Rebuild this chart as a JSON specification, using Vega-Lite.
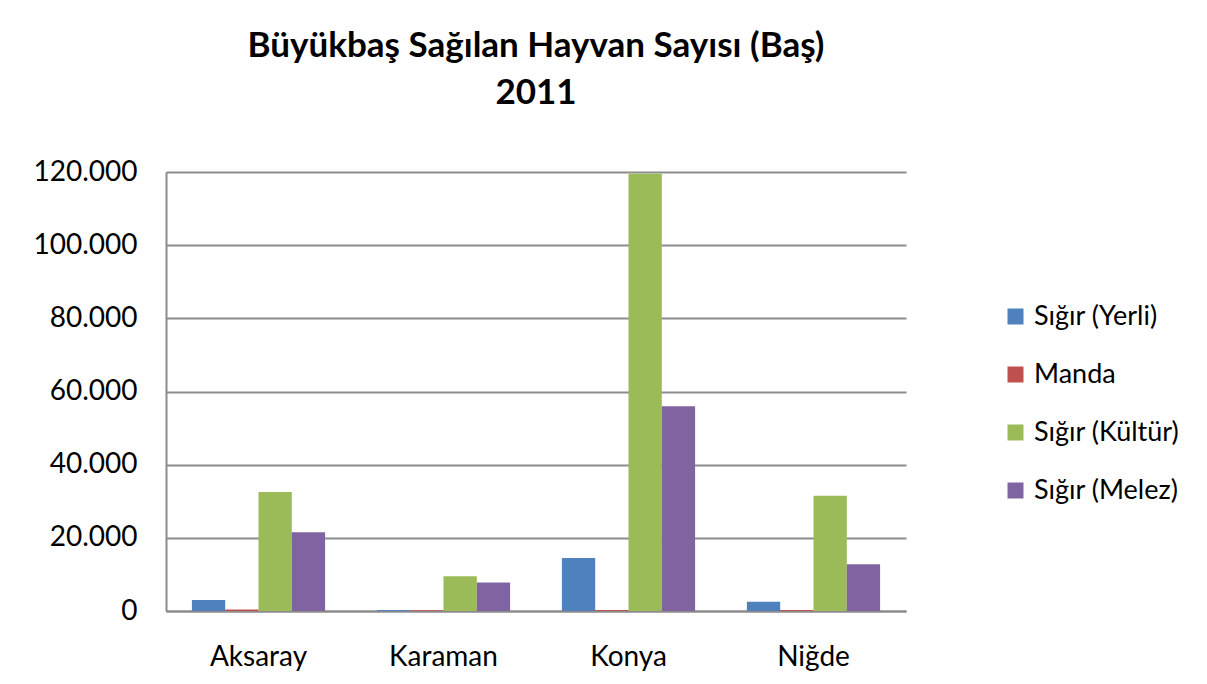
{
  "$schema": "https://vega.github.io/schema/vega-lite/v6.json",
  "autosize": {"type": "none"},
  "width": 740,
  "height": 439,
  "padding": {"left": 166, "top": 172, "right": 301, "bottom": 73},
  "background": "white",
  "title": {
    "text": ["Büyükbaş Sağılan Hayvan Sayısı (Baş)", "2011"],
    "font": "Lato",
    "fontSize": 35,
    "fontWeight": "bold",
    "color": "#000000",
    "anchor": "middle",
    "lineHeight": 47,
    "offset": 47
  },
  "data": {
    "values": [
      {"il": "Aksaray", "tur": "Sığır (Yerli)", "sayi": 3000},
      {"il": "Aksaray", "tur": "Manda", "sayi": 400},
      {"il": "Aksaray", "tur": "Sığır (Kültür)", "sayi": 32500},
      {"il": "Aksaray", "tur": "Sığır (Melez)", "sayi": 21500},
      {"il": "Karaman", "tur": "Sığır (Yerli)", "sayi": 300},
      {"il": "Karaman", "tur": "Manda", "sayi": 200},
      {"il": "Karaman", "tur": "Sığır (Kültür)", "sayi": 9500},
      {"il": "Karaman", "tur": "Sığır (Melez)", "sayi": 7800},
      {"il": "Konya", "tur": "Sığır (Yerli)", "sayi": 14500},
      {"il": "Konya", "tur": "Manda", "sayi": 300},
      {"il": "Konya", "tur": "Sığır (Kültür)", "sayi": 119500},
      {"il": "Konya", "tur": "Sığır (Melez)", "sayi": 56000},
      {"il": "Niğde", "tur": "Sığır (Yerli)", "sayi": 2500},
      {"il": "Niğde", "tur": "Manda", "sayi": 300},
      {"il": "Niğde", "tur": "Sığır (Kültür)", "sayi": 31500},
      {"il": "Niğde", "tur": "Sığır (Melez)", "sayi": 12800}
    ]
  },
  "mark": {"type": "bar", "clip": false},
  "encoding": {
    "x": {
      "field": "il",
      "type": "nominal",
      "sort": ["Aksaray", "Karaman", "Konya", "Niğde"],
      "scale": {"paddingInner": 0.28, "paddingOuter": 0.14},
      "axis": {
        "title": null,
        "labelAngle": 0,
        "labelFont": "Lato",
        "labelFontSize": 28,
        "labelColor": "#000000",
        "labelPadding": 32,
        "ticks": false,
        "domainColor": "#8c8c8c",
        "domainWidth": 2
      }
    },
    "xOffset": {
      "field": "tur",
      "type": "nominal",
      "sort": ["Sığır (Yerli)", "Manda", "Sığır (Kültür)", "Sığır (Melez)"]
    },
    "y": {
      "field": "sayi",
      "type": "quantitative",
      "scale": {"domain": [0, 120000], "nice": false},
      "axis": {
        "title": null,
        "values": [0, 20000, 40000, 60000, 80000, 100000, 120000],
        "format": ",d",
        "labelFont": "Lato",
        "labelFontSize": 28,
        "labelColor": "#000000",
        "labelPadding": 29,
        "ticks": false,
        "domainColor": "#8c8c8c",
        "domainWidth": 2,
        "grid": true,
        "gridColor": "#8c8c8c",
        "gridWidth": 2
      }
    },
    "color": {
      "field": "tur",
      "type": "nominal",
      "scale": {
        "domain": ["Sığır (Yerli)", "Manda", "Sığır (Kültür)", "Sığır (Melez)"],
        "range": ["#4F81BD", "#C0504D", "#9BBB59", "#8064A2"]
      },
      "legend": {
        "title": null,
        "orient": "none",
        "legendX": 836,
        "legendY": 131,
        "symbolType": "square",
        "symbolSize": 256,
        "symbolStrokeWidth": 0,
        "labelFont": "Lato",
        "labelFontSize": 27,
        "labelColor": "#000000",
        "labelOffset": 5,
        "rowPadding": 30
      }
    }
  },
  "config": {
    "locale": {
      "number": {"decimal": ",", "thousands": ".", "grouping": [3], "currency": ["", " TL"]}
    },
    "view": {"stroke": null}
  }
}
